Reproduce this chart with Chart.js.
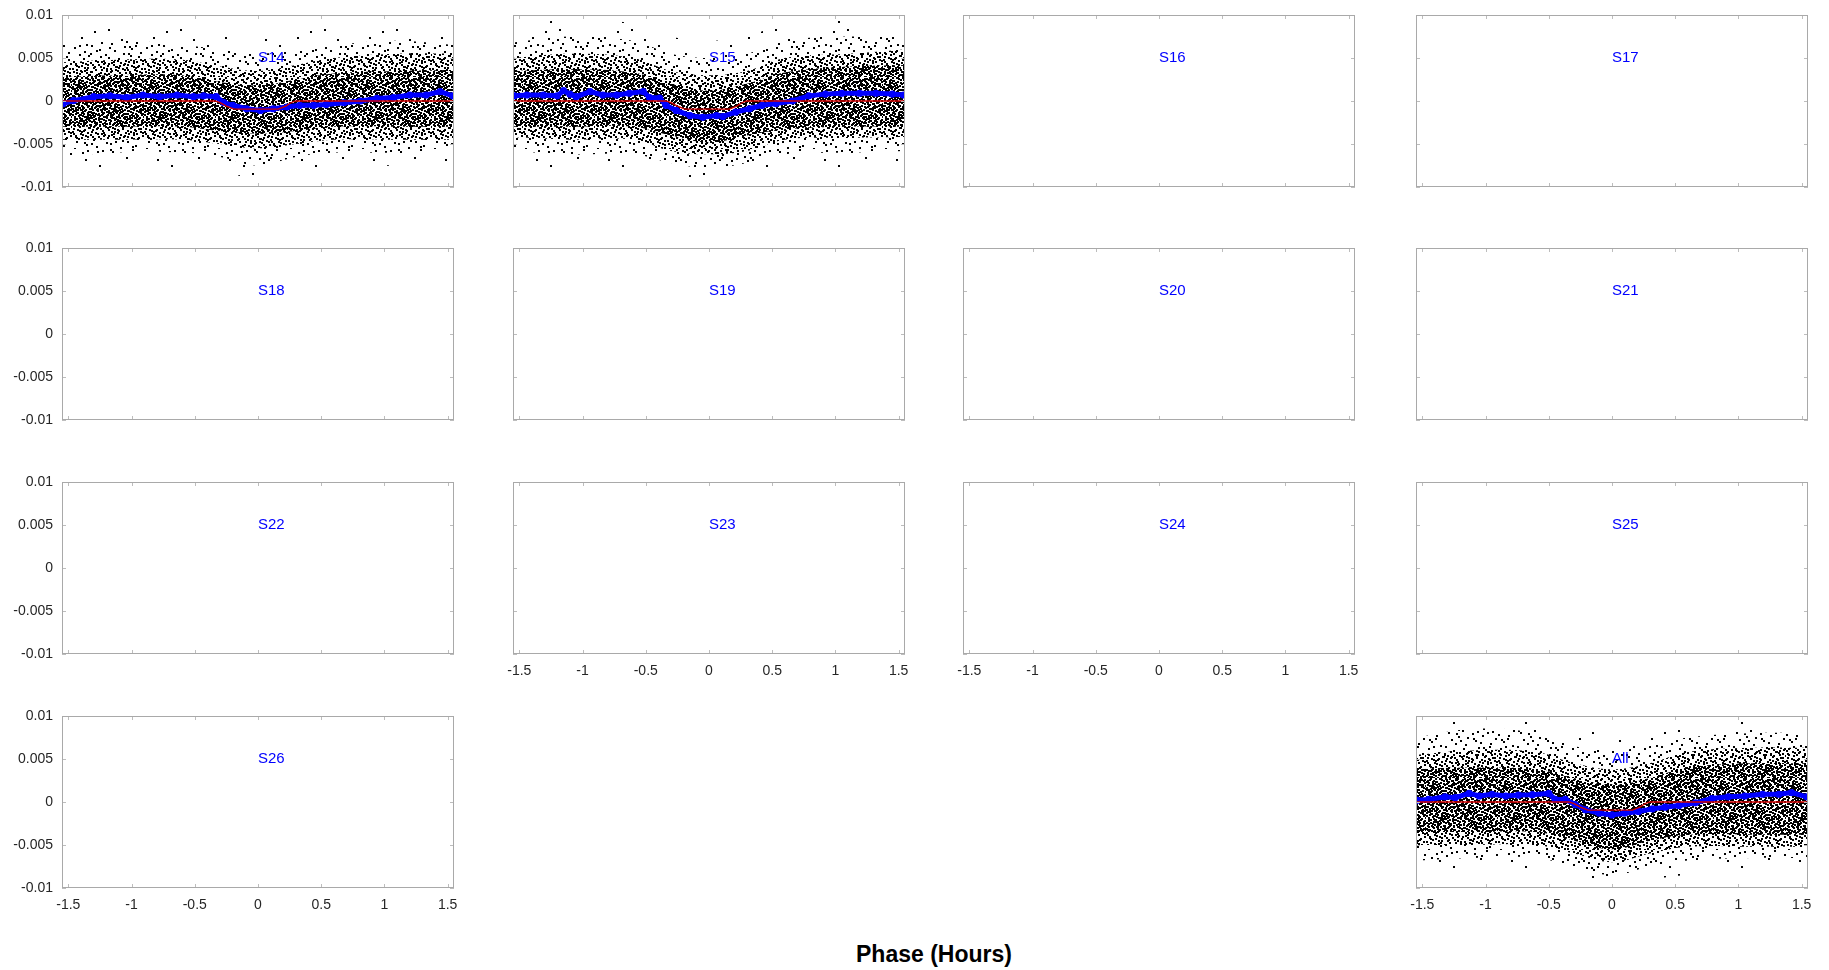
<!DOCTYPE html>
<html>
<head>
<meta charset="utf-8">
<script src="https://cdn.jsdelivr.net/npm/chart.js@4.4.1/dist/chart.umd.min.js"></script>
<style>
  body { margin: 0; background: #fff; width: 1829px; height: 970px; position: relative; overflow: hidden; font-family: "Liberation Sans", Arial, sans-serif; }
  canvas { position: absolute; }
  #xlabel { position: absolute; left: 934px; top: 954px; transform: translate(-50%, -50%); font-weight: bold; font-size: 23px; color: #000; white-space: nowrap; }
</style>
</head>
<body>
<div id="xlabel">Phase (Hours)</div>
<script>
const panelNames = ['S14', 'S15', 'S16', 'S17', 'S18', 'S19', 'S20', 'S21', 'S22', 'S23', 'S24', 'S25', 'S26', 'All'];
const xTicks = [-1.5, -1, -0.5, 0, 0.5, 1, 1.5];
const yTicks = [0.01, 0.005, 0, -0.005, -0.01];

// transit model (red line), same in every panel with data
const modelPhase = [-1.55, -0.34, -0.3, -0.25, -0.19, 0.16, 0.22, 0.26, 0.3, 1.55];
const modelFlux = [0, 0, -0.0002, -0.0006, -0.00095, -0.00095, -0.0006, -0.0002, 0, 0];

// binned light curves (blue)
const s14Phase = [-1.54, -1.46, -1.3, -1.17, -1.04, -0.91, -0.78, -0.64, -0.51, -0.43, -0.33, -0.27, -0.2, -0.09, 0.02, 0.12, 0.23, 0.33, 0.44, 0.54, 0.68, 0.81, 0.94, 1.07, 1.2, 1.33, 1.44, 1.54];
const s14Flux = [-0.0003, 0.00005, 0.0005, 0.0006, 0.0004, 0.0007, 0.0005, 0.0007, 0.0005, 0.0006, 0.0005, -0.0002, -0.0005, -0.0009, -0.0011, -0.0009, -0.0007, -0.0005, -0.0005, -0.0004, -0.0002, 0, 0.0003, 0.0004, 0.0007, 0.0007, 0.0011, 0.0006];

const s15Phase = [-1.54, -1.44, -1.31, -1.2, -1.15, -1.1, -1.05, -0.94, -0.84, -0.73, -0.63, -0.52, -0.47, -0.39, -0.34, -0.26, -0.15, -0.05, 0.06, 0.11, 0.21, 0.32, 0.42, 0.53, 0.66, 0.79, 0.92, 1.05, 1.19, 1.32, 1.45, 1.54];
const s15Flux = [0.0006, 0.0007, 0.0007, 0.0006, 0.0012, 0.0008, 0.0005, 0.0011, 0.0007, 0.0007, 0.0009, 0.0011, 0.0004, 0.00035, -0.0005, -0.0011, -0.0017, -0.0019, -0.0017, -0.0018, -0.0013, -0.0009, -0.0005, -0.0003, 0, 0.0006, 0.0008, 0.0009, 0.0009, 0.0009, 0.0008, 0.0007];

const allPhase = [-1.54, -1.45, -1.32, -1.24, -1.13, -1.05, -0.95, -0.84, -0.74, -0.63, -0.5, -0.45, -0.37, -0.29, -0.21, -0.1, 0, 0.1, 0.21, 0.32, 0.42, 0.53, 0.66, 0.79, 0.92, 1.05, 1.19, 1.32, 1.42, 1.54];
const allFlux = [0.0002, 0.0003, 0.0006, 0.0005, 0.001, 0.0007, 0.0009, 0.0007, 0.0008, 0.00085, 0.001, 0.0003, 0.0003, -0.0003, -0.0009, -0.0013, -0.0015, -0.0013, -0.0011, -0.0008, -0.0006, -0.0004, -0.0001, 0.0004, 0.0006, 0.0007, 0.0009, 0.0009, 0.0011, 0.0006];

// extent of the unbinned point cloud (black), read as envelopes
const cloudPhase = [-1.55, -1.1, -0.6, -0.3, 0, 0.3, 0.6, 1.1, 1.55];

const s14CoreHi = [0.0028, 0.003, 0.003, 0.0022, 0.0018, 0.0025, 0.0032, 0.0035, 0.0036];
const s14CoreLo = [-0.003, -0.003, -0.003, -0.0035, -0.0038, -0.0035, -0.003, -0.003, -0.003];
const s14MidHi = [0.0045, 0.0048, 0.0048, 0.004, 0.0035, 0.0042, 0.005, 0.0055, 0.0055];
const s14MidLo = [-0.0045, -0.0045, -0.0045, -0.005, -0.0055, -0.005, -0.0045, -0.0045, -0.0045];
const s14OutHi = [0.0065, 0.007, 0.0065, 0.006, 0.0055, 0.006, 0.0065, 0.007, 0.0065];
const s14OutLo = [-0.0065, -0.006, -0.006, -0.0065, -0.0075, -0.0065, -0.006, -0.006, -0.0055];
const s14FarHi = [0.0085, 0.009, 0.0085, 0.008, 0.0075, 0.008, 0.0085, 0.009, 0.0085];
const s14FarLo = [-0.008, -0.0078, -0.0078, -0.0082, -0.009, -0.0082, -0.0078, -0.0075, -0.0072];

const s15CoreHi = [0.0035, 0.0037, 0.0033, 0.002, 0.0012, 0.002, 0.0033, 0.004, 0.0042];
const s15CoreLo = [-0.003, -0.003, -0.003, -0.004, -0.0048, -0.004, -0.0033, -0.003, -0.003];
const s15MidHi = [0.005, 0.0055, 0.005, 0.0035, 0.003, 0.0035, 0.005, 0.0055, 0.006];
const s15MidLo = [-0.0042, -0.0045, -0.0045, -0.0058, -0.0062, -0.0058, -0.0045, -0.0043, -0.0042];
const s15OutHi = [0.0068, 0.0075, 0.007, 0.0055, 0.005, 0.0055, 0.007, 0.0075, 0.0075];
const s15OutLo = [-0.0058, -0.0062, -0.0062, -0.0072, -0.0078, -0.0072, -0.0062, -0.006, -0.0058];
const s15FarHi = [0.0085, 0.0095, 0.009, 0.0075, 0.007, 0.0075, 0.009, 0.0095, 0.009];
const s15FarLo = [-0.0075, -0.008, -0.008, -0.0088, -0.0092, -0.0088, -0.008, -0.0078, -0.0075];

const allCoreHi = [0.0038, 0.004, 0.0038, 0.0028, 0.002, 0.0028, 0.004, 0.0045, 0.0045];
const allCoreLo = [-0.0035, -0.0035, -0.0035, -0.0045, -0.0055, -0.0045, -0.0038, -0.0038, -0.0038];
const allMidHi = [0.0055, 0.006, 0.0058, 0.0045, 0.0038, 0.0045, 0.0058, 0.0063, 0.0063];
const allMidLo = [-0.005, -0.005, -0.005, -0.006, -0.007, -0.006, -0.0052, -0.0052, -0.0052];
const allOutHi = [0.0075, 0.0085, 0.008, 0.0065, 0.006, 0.0065, 0.0075, 0.008, 0.008];
const allOutLo = [-0.0068, -0.0065, -0.0065, -0.0075, -0.0085, -0.0075, -0.0068, -0.0065, -0.0065];
const allFarHi = [0.009, 0.0095, 0.0095, 0.0085, 0.008, 0.0085, 0.009, 0.0095, 0.0095];
const allFarLo = [-0.0085, -0.0082, -0.0082, -0.009, -0.0095, -0.009, -0.0085, -0.0082, -0.0082];

// layout
const panelCol = [0, 1, 2, 3, 0, 1, 2, 3, 0, 1, 2, 3, 0, 3];
const panelRow = [0, 0, 0, 0, 1, 1, 1, 1, 2, 2, 2, 2, 3, 3];
const colLeft = [62, 513, 963, 1416];
const rowTop = [15, 248, 482, 716];
const plotW = 392, plotH = 172;
const axisW = 62, axisH = 40, padTop = 10, padRight = 12;

Chart.defaults.font.family = '"Liberation Sans", Arial, sans-serif';
Chart.defaults.font.size = 14;
Chart.defaults.color = '#262626';

// dotted fill so the cloud reads as points; texture only (Halton 2,3 layout)
function halton(i, b) {
  let f = 1, r = 0;
  while (i > 0) { f /= b; r += f * (i % b); i = Math.floor(i / b); }
  return r;
}
function dotPattern(count) {
  const size = 72;
  const tile = document.createElement('canvas');
  tile.width = tile.height = size;
  const g = tile.getContext('2d');
  g.fillStyle = '#000';
  for (let i = 1; i <= count; i++) {
    g.fillRect(Math.floor(halton(i, 2) * size), Math.floor(halton(i, 3) * size), 2, 2);
  }
  return g.createPattern(tile, 'repeat');
}
const coreDots = dotPattern(1000);
const midDots = dotPattern(480);
const outDots = dotPattern(120);
const farDots = dotPattern(14);

const toXY = (xs, ys) => xs.map((x, i) => ({ x: x, y: ys[i] }));

function band(hi, lo, pattern) {
  const common = { pointRadius: 0, borderWidth: 0, borderColor: 'transparent', tension: 0.4 };
  return [
    Object.assign({ data: toXY(cloudPhase, hi), fill: '+1', backgroundColor: pattern }, common),
    Object.assign({ data: toXY(cloudPhase, lo), fill: false }, common)
  ];
}

function dataSets(phase, flux, cloud) {
  return [
    { data: toXY(modelPhase, modelFlux), borderColor: '#d00000', borderWidth: 1.3, pointRadius: 0, fill: false },
    { data: toXY(phase, flux), borderColor: '#0000ff', borderWidth: 5, pointRadius: 3.6,
      pointBackgroundColor: '#0000ff', pointBorderWidth: 0, fill: false },
    ...band(cloud[0], cloud[1], coreDots),
    ...band(cloud[2], cloud[3], midDots),
    ...band(cloud[4], cloud[5], outDots),
    ...band(cloud[6], cloud[7], farDots)
  ];
}

const panelData = {
  S14: dataSets(s14Phase, s14Flux, [s14CoreHi, s14CoreLo, s14MidHi, s14MidLo, s14OutHi, s14OutLo, s14FarHi, s14FarLo]),
  S15: dataSets(s15Phase, s15Flux, [s15CoreHi, s15CoreLo, s15MidHi, s15MidLo, s15OutHi, s15OutLo, s15FarHi, s15FarLo]),
  All: dataSets(allPhase, allFlux, [allCoreHi, allCoreLo, allMidHi, allMidLo, allOutHi, allOutLo, allFarHi, allFarLo])
};

const labelX = 0, labelY = 0.005;

const panelFrame = {
  id: 'panelFrame',
  afterDraw(chart, args, opts) {
    const { ctx, chartArea: a, scales: { x, y } } = chart;
    ctx.save();
    ctx.lineWidth = 1;
    ctx.strokeStyle = '#bdbdbd';
    ctx.beginPath();
    for (const v of xTicks) {
      const px = Math.round(x.getPixelForValue(v)) + 0.5;
      ctx.moveTo(px, a.bottom); ctx.lineTo(px, a.bottom - 4);
      ctx.moveTo(px, a.top); ctx.lineTo(px, a.top + 4);
    }
    for (const v of yTicks) {
      const py = Math.round(y.getPixelForValue(v)) + 0.5;
      ctx.moveTo(a.left, py); ctx.lineTo(a.left + 4, py);
      ctx.moveTo(a.right, py); ctx.lineTo(a.right - 4, py);
    }
    ctx.stroke();
    ctx.strokeStyle = '#a9a9a9';
    ctx.strokeRect(a.left + 0.5, a.top + 0.5, a.width - 1, a.height - 1);
    ctx.fillStyle = '#0000ff';
    ctx.font = '15px "Liberation Sans", Arial, sans-serif';
    ctx.textAlign = 'left';
    ctx.textBaseline = 'middle';
    ctx.fillText(opts.name, x.getPixelForValue(labelX), y.getPixelForValue(labelY));
    ctx.restore();
  }
};
Chart.register(panelFrame);

// keep every plot box the same size: no extra room for overhanging tick labels
function fixBox(s, w, h) {
  if (w !== null) s.width = w;
  if (h !== null) s.height = h;
  s.paddingLeft = s.paddingRight = s.paddingTop = s.paddingBottom = 0;
}

panelNames.forEach((name, i) => {
  const col = panelCol[i], row = panelRow[i];
  const lowest = !panelNames.some((n, j) => panelCol[j] === col && panelRow[j] > row);
  const canvas = document.createElement('canvas');
  canvas.width = axisW + plotW + padRight;
  canvas.height = padTop + plotH + axisH;
  canvas.style.left = (colLeft[col] - axisW) + 'px';
  canvas.style.top = (rowTop[row] - padTop) + 'px';
  document.body.appendChild(canvas);

  new Chart(canvas, {
    type: 'line',
    data: { datasets: panelData[name] || [] },
    options: {
      responsive: false,
      animation: false,
      devicePixelRatio: 1,
      events: [],
      layout: { padding: { top: padTop, right: padRight, left: 0, bottom: 0 } },
      plugins: {
        legend: { display: false },
        tooltip: { enabled: false },
        panelFrame: { name: name }
      },
      scales: {
        x: {
          type: 'linear',
          min: -1.55,
          max: 1.55,
          grid: { display: false, drawTicks: false },
          border: { display: false },
          afterBuildTicks: s => { s.ticks = xTicks.map(v => ({ value: v })); },
          afterFit: s => fixBox(s, null, axisH),
          ticks: { display: lowest, padding: 9, maxRotation: 0, autoSkip: false, callback: v => String(v) }
        },
        y: {
          type: 'linear',
          min: -0.01,
          max: 0.01,
          grid: { display: false, drawTicks: false },
          border: { display: false },
          afterBuildTicks: s => { s.ticks = yTicks.map(v => ({ value: v })); },
          afterFit: s => fixBox(s, axisW, null),
          ticks: { display: col === 0, padding: 9, autoSkip: false, callback: v => String(v) }
        }
      }
    }
  });
});
</script>
</body>
</html>
